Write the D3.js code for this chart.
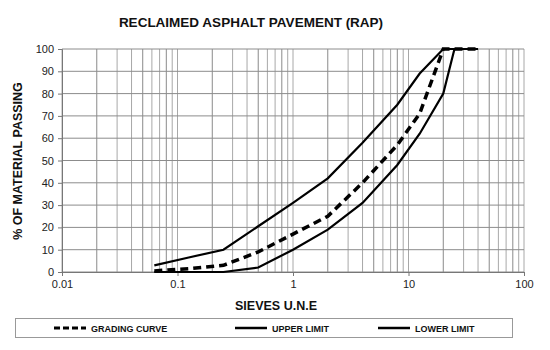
<!DOCTYPE html>
<html>
<head>
<meta charset="utf-8">
<script src="https://cdn.jsdelivr.net/npm/d3@7"></script>
<style>
  html, body { margin: 0; padding: 0; background: #fff; }
  svg { display: block; font-family: "Liberation Sans", Arial, sans-serif; }
</style>
</head>
<body>
<svg id="chart" width="550" height="350"></svg>
<script>
// Sieve sizes (mm) and % passing
const sieves = [0.063, 0.125, 0.25, 0.5, 1, 2, 4, 8, 12.5, 20, 25, 40];
const gradingCurve = [0.5, 1.5, 3, 9, 17, 25, 40, 57, 71, 100, 100, 100];
const upperLimit   = [3, 6.5, 10, 20.5, 31, 42, 58, 75, 89, 100, 100, 100];
const lowerLimit   = [0, 0, 0, 2, 10, 19, 31, 48, 62, 80, 100, 100];
const xTicks = [0.01, 0.1, 1, 10, 100];
const yTicks = [0, 10, 20, 30, 40, 50, 60, 70, 80, 90, 100];
const seriesNames = ["GRADING CURVE", "UPPER LIMIT", "LOWER LIMIT"];

(function () {
const svg = d3.select("#chart");
const mLeft = 62, mRight = 524, mTop = 49, mBottom = 272;

const x = d3.scaleLog().domain([0.01, 100]).range([mLeft, mRight]);
const y = d3.scaleLinear().domain([0, 100]).range([mBottom, mTop]);

// Title
svg.append("text").attr("x", 251).attr("y", 27).attr("text-anchor", "middle")
  .attr("font-size", 13.5).attr("font-weight", "bold").attr("fill", "#111")
  .text("RECLAIMED ASPHALT PAVEMENT (RAP)");

// Grid: vertical log lines
const minor = [];
for (let d = 0.01; d < 100; d *= 10) {
  for (let k = 1; k <= 10; k++) minor.push(+(d * k).toPrecision(3));
}
const gridV = Array.from(new Set(minor));
svg.append("g").selectAll("line").data(gridV).join("line")
  .attr("x1", d => x(d)).attr("x2", d => x(d))
  .attr("y1", y(0)).attr("y2", y(100))
  .attr("stroke", (d, i) => (i % 3 === 1 ? "#8a8a8a" : "#a8a8a8")).attr("stroke-width", 1);

// Horizontal grid
svg.append("g").selectAll("line").data(yTicks).join("line")
  .attr("x1", x(0.01)).attr("x2", x(100))
  .attr("y1", d => y(d)).attr("y2", d => y(d))
  .attr("stroke", "#8c8c8c").attr("stroke-width", 1);

// Axes
const yAxis = d3.axisLeft(y).tickValues(yTicks).tickSize(4).tickPadding(4);
const gy = svg.append("g").attr("transform", `translate(${mLeft},0)`).call(yAxis);
gy.select(".domain").attr("stroke", "#777");
gy.selectAll(".tick line").attr("stroke", "#777");
gy.selectAll("text").attr("font-size", 11).attr("fill", "#222")
  .attr("font-family", "Liberation Sans, Arial, sans-serif");

const xAxis = d3.axisBottom(x).tickValues(xTicks).tickFormat(d => String(d)).tickSize(4).tickPadding(4);
const gx = svg.append("g").attr("transform", `translate(0,${mBottom})`).call(xAxis);
gx.select(".domain").attr("stroke", "#777");
gx.selectAll(".tick line").attr("stroke", "#777");
gx.selectAll("text").attr("font-size", 11).attr("fill", "#222")
  .attr("font-family", "Liberation Sans, Arial, sans-serif");

// Axis titles
svg.append("text").attr("transform", "translate(22,161) rotate(-90)")
  .attr("text-anchor", "middle").attr("font-size", 12.5).attr("font-weight", "bold").attr("fill", "#111")
  .text("% OF MATERIAL PASSING");
svg.append("text").attr("x", 276).attr("y", 310).attr("text-anchor", "middle")
  .attr("font-size", 12.5).attr("font-weight", "bold").attr("fill", "#111")
  .text("SIEVES U.N.E");

// Lines
const line = d3.line().x(d => x(d[0])).y(d => y(d[1]));
const zip = vals => sieves.map((s, i) => [s, vals[i]]);

svg.append("path").datum(zip(upperLimit)).attr("d", line)
  .attr("fill", "none").attr("stroke", "#000").attr("stroke-width", 2.2);
svg.append("path").datum(zip(lowerLimit)).attr("d", line)
  .attr("fill", "none").attr("stroke", "#000").attr("stroke-width", 2.2);
svg.append("path").datum(zip(gradingCurve)).attr("d", line)
  .attr("fill", "none").attr("stroke", "#000").attr("stroke-width", 3.5)
  .attr("stroke-dasharray", "8,5");

// Legend
const lg = svg.append("g");
lg.append("rect").attr("x", 15.5).attr("y", 318.5).attr("width", 497).attr("height", 19)
  .attr("fill", "#fff").attr("stroke", "#999").attr("stroke-width", 1);
const items = [
  { name: seriesNames[0], x0: 54, dash: "6,3", w: 3 },
  { name: seriesNames[1], x0: 235, dash: null, w: 2.5 },
  { name: seriesNames[2], x0: 378, dash: null, w: 2.5 }
];
items.forEach(it => {
  lg.append("line").attr("x1", it.x0).attr("x2", it.x0 + 32).attr("y1", 328).attr("y2", 328)
    .attr("stroke", "#000").attr("stroke-width", it.w)
    .attr("stroke-dasharray", it.dash);
  lg.append("text").attr("x", it.x0 + 37).attr("y", 331.5).attr("font-size", 9)
    .attr("font-weight", "bold").attr("fill", "#111").text(it.name);
});
})();
</script>
</body>
</html>
